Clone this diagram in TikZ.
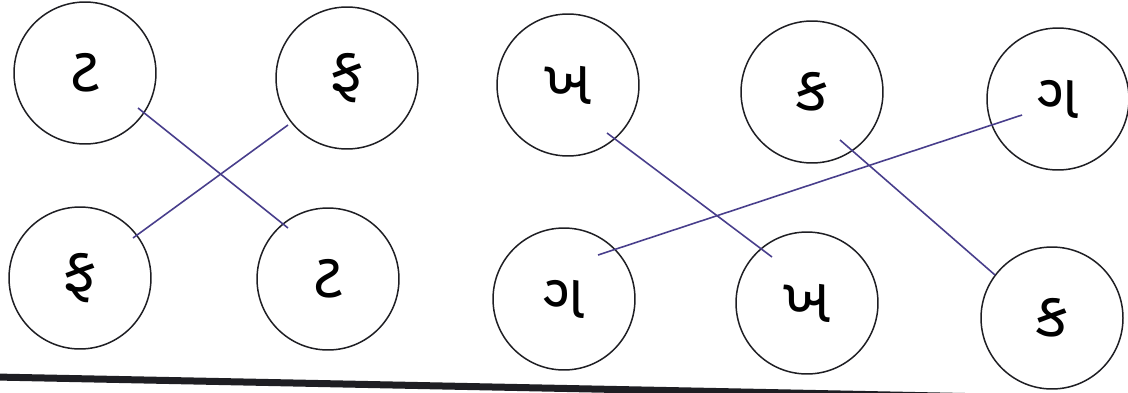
\documentclass[tikz,border=0pt]{standalone}
\usepackage{fontspec}
\newfontfamily\guj[Script=Gujarati]{Noto Sans Gujarati UI}
\definecolor{pen}{RGB}{72,62,140}
\definecolor{ink}{RGB}{30,30,35}
\begin{document}
\begin{tikzpicture}[x=0.02cm,y=-0.02cm,
  letter/.style={circle,draw=ink,line width=0.85pt,minimum size=2.84cm,inner sep=0pt,
    font=\fontsize{36}{38}\selectfont\guj},
  link/.style={draw=pen,line width=0.9pt}]
\useasboundingbox (0,0) rectangle (1128,392);
\clip (0,0) rectangle (1128,392);
\fill[white] (0,0) rectangle (1128,392);
% circles
\node[letter] (t1)  at (85,73)   {ટ};
\node[letter] (f1)  at (347,78)  {ફ};
\node[letter] (f2)  at (80,278)  {ફ};
\node[letter] (t2)  at (328,279) {ટ};
\node[letter] (kh1) at (568,85)  {ખ};
\node[letter] (k1)  at (812,92)  {ક};
\node[letter] (g2)  at (1058,99) {ગ};
\node[letter] (g1)  at (564,299) {ગ};
\node[letter] (kh2) at (807,303) {ખ};
\node[letter] (k2)  at (1052,318){ક};
% connector ends
\coordinate (a1) at ([shift={(53,35)}]t1.center);
\coordinate (a2) at ([shift={(-40,-51)}]t2.center);
\coordinate (b1) at ([shift={(-59,47)}]f1.center);
\coordinate (b2) at ([shift={(53,-40)}]f2.center);
\coordinate (c1) at ([shift={(39,48)}]kh1.center);
\coordinate (c2) at ([shift={(-35,-46)}]kh2.center);
\coordinate (d1) at ([shift={(34,-44)}]g1.center);
\coordinate (d2) at ([shift={(-36,16)}]g2.center);
\coordinate (e1) at ([shift={(28,48)}]k1.center);
\coordinate (e2) at ([shift={(-57,-43)}]k2.center);
\draw[link] (a1) -- (a2);
\draw[link] (b1) -- (b2);
\draw[link] (c1) -- (c2);
\draw[link] (d1) -- (d2);
\draw[link] (e1) -- (e2);
% bottom edge bar
\coordinate (barL) at (-5,377);
\coordinate (barR) at (990,397);
\draw[ink,line width=0.14cm] (barL) -- (barR);
\end{tikzpicture}
\end{document}
